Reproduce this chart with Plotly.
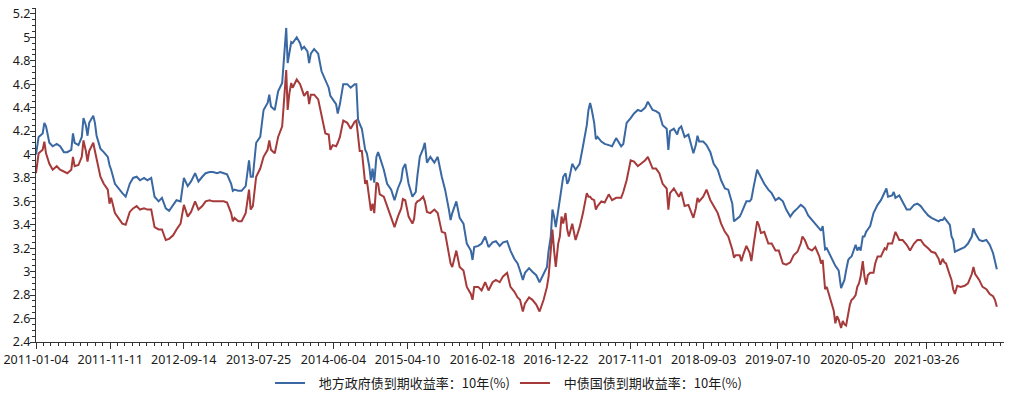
import plotly.graph_objects as go
import pandas as pd

# ---- data ----
dates = [
    "2011-01-04", "2011-01-15", "2011-02-01", "2011-02-08", "2011-02-15", "2011-03-01", "2011-03-15",
    "2011-04-01", "2011-04-15", "2011-05-01", "2011-05-15", "2011-06-01", "2011-06-08", "2011-06-15",
    "2011-07-01", "2011-07-15", "2011-07-22", "2011-08-01", "2011-08-08", "2011-08-15", "2011-09-01",
    "2011-09-08", "2011-09-15", "2011-10-01", "2011-10-15", "2011-11-01", "2011-11-08", "2011-11-15",
    "2011-12-01", "2011-12-15",
    "2012-01-01", "2012-01-15", "2012-02-01", "2012-02-15", "2012-03-01", "2012-03-15", "2012-04-01",
    "2012-04-15", "2012-05-01", "2012-05-15", "2012-06-01", "2012-06-15", "2012-07-01", "2012-07-15",
    "2012-08-01", "2012-08-15", "2012-09-01", "2012-09-15", "2012-10-01", "2012-10-15", "2012-11-01",
    "2012-11-15", "2012-12-01", "2012-12-15",
    "2013-01-01", "2013-01-15", "2013-02-01", "2013-02-15", "2013-03-01", "2013-03-15", "2013-04-01",
    "2013-04-08", "2013-04-15", "2013-05-01", "2013-05-15", "2013-06-01", "2013-06-08", "2013-06-15",
    "2013-06-22", "2013-07-01", "2013-07-15", "2013-08-01", "2013-08-15", "2013-09-01", "2013-09-08",
    "2013-09-15", "2013-10-01", "2013-10-15", "2013-11-01", "2013-11-08", "2013-11-18", "2013-11-24",
    "2013-12-01", "2013-12-09", "2013-12-15",
    "2014-01-01", "2014-01-15", "2014-01-22", "2014-02-01", "2014-02-15", "2014-02-22", "2014-03-01",
    "2014-03-15", "2014-04-01", "2014-04-15", "2014-05-01", "2014-05-15", "2014-05-22", "2014-06-01",
    "2014-06-15", "2014-06-22", "2014-07-01", "2014-07-15", "2014-08-01", "2014-08-15", "2014-09-01",
    "2014-09-08", "2014-09-15", "2014-09-22", "2014-10-01", "2014-10-15", "2014-10-22", "2014-11-01",
    "2014-11-08", "2014-11-15", "2014-11-22", "2014-12-01", "2014-12-08", "2014-12-15",
    "2015-01-01", "2015-01-15", "2015-02-01", "2015-02-15", "2015-03-01", "2015-03-15", "2015-03-22",
    "2015-04-01", "2015-04-15", "2015-05-01", "2015-05-08", "2015-05-15", "2015-05-22", "2015-06-01",
    "2015-06-15", "2015-06-22", "2015-07-01", "2015-07-15", "2015-08-01", "2015-08-15", "2015-09-01",
    "2015-09-15", "2015-10-01", "2015-10-08", "2015-10-15", "2015-11-01", "2015-11-15", "2015-12-01",
    "2015-12-15",
    "2016-01-01", "2016-01-08", "2016-01-15", "2016-02-01", "2016-02-15", "2016-03-01", "2016-03-15",
    "2016-04-01", "2016-04-15", "2016-05-01", "2016-05-15", "2016-06-01", "2016-06-15", "2016-07-01",
    "2016-07-15", "2016-07-25", "2016-08-06", "2016-08-15", "2016-09-01", "2016-09-15", "2016-10-01",
    "2016-10-15", "2016-11-01", "2016-11-15", "2016-11-22", "2016-12-01", "2016-12-08", "2016-12-15",
    "2016-12-22",
    "2017-01-01", "2017-01-08", "2017-01-15", "2017-01-22", "2017-02-01", "2017-02-08", "2017-02-15",
    "2017-03-01", "2017-03-15", "2017-04-01", "2017-04-15", "2017-05-01", "2017-05-08", "2017-05-15",
    "2017-05-22", "2017-06-01", "2017-06-08", "2017-06-15", "2017-07-01", "2017-07-15", "2017-08-01",
    "2017-08-15", "2017-09-01", "2017-09-15", "2017-09-22", "2017-10-01", "2017-10-15", "2017-11-01",
    "2017-11-15", "2017-12-01", "2017-12-15",
    "2018-01-01", "2018-01-12", "2018-02-01", "2018-02-15", "2018-03-01", "2018-03-15", "2018-04-01",
    "2018-04-08", "2018-04-15", "2018-05-01", "2018-05-15", "2018-05-22", "2018-06-01", "2018-06-15",
    "2018-07-01", "2018-07-15", "2018-07-22", "2018-08-01", "2018-08-08", "2018-08-15", "2018-09-01",
    "2018-09-15", "2018-10-01", "2018-10-15", "2018-11-01", "2018-11-15", "2018-12-01", "2018-12-15",
    "2019-01-01", "2019-01-08", "2019-01-15", "2019-02-01", "2019-02-08", "2019-02-15", "2019-03-01",
    "2019-03-15", "2019-03-22", "2019-04-01", "2019-04-15", "2019-04-22", "2019-05-01", "2019-05-15",
    "2019-06-01", "2019-06-15", "2019-07-01", "2019-07-15", "2019-08-01", "2019-08-15", "2019-09-01",
    "2019-09-15", "2019-10-01", "2019-10-15", "2019-10-22", "2019-11-01", "2019-11-15", "2019-12-01",
    "2019-12-15",
    "2020-01-01", "2020-01-08", "2020-01-15", "2020-01-25", "2020-02-01", "2020-02-08", "2020-02-15",
    "2020-02-22", "2020-03-01", "2020-03-08", "2020-03-15", "2020-03-22", "2020-04-01", "2020-04-08",
    "2020-04-15", "2020-04-22", "2020-05-01", "2020-05-08", "2020-05-15", "2020-05-22", "2020-06-01",
    "2020-06-08", "2020-06-15", "2020-06-22", "2020-07-01", "2020-07-08", "2020-07-15", "2020-07-22",
    "2020-08-01", "2020-08-15", "2020-08-22", "2020-09-01", "2020-09-15", "2020-10-01", "2020-10-08",
    "2020-10-15", "2020-11-01", "2020-11-08", "2020-11-15", "2020-12-01", "2020-12-15",
    "2021-01-01", "2021-01-15", "2021-02-01", "2021-02-15", "2021-03-01", "2021-03-15", "2021-04-01",
    "2021-04-15", "2021-05-01", "2021-05-15", "2021-05-22", "2021-06-01", "2021-06-08", "2021-06-15",
    "2021-07-01", "2021-07-08", "2021-07-15", "2021-07-22", "2021-08-01", "2021-08-15", "2021-09-01",
    "2021-09-15", "2021-10-01", "2021-10-08", "2021-10-15", "2021-11-01", "2021-11-15", "2021-12-01",
    "2021-12-15", "2021-12-29", "2022-01-06", "2022-01-14",
]

local_gov_10y = [
    4.00, 4.15, 4.18, 4.27, 4.24, 4.10, 4.07,
    4.09, 4.07, 4.02, 4.02, 4.04, 4.18, 4.10,
    4.08, 4.15, 4.31, 4.25, 4.16, 4.27, 4.33,
    4.27, 4.16, 4.05, 4.02, 3.98, 3.91, 3.87,
    3.75, 3.71,
    3.67, 3.64, 3.75, 3.80, 3.81, 3.78, 3.80,
    3.78, 3.80, 3.64, 3.60, 3.63, 3.54, 3.52,
    3.57, 3.61, 3.60, 3.80, 3.73, 3.77, 3.84,
    3.77, 3.81, 3.84,
    3.85, 3.85, 3.84, 3.85, 3.84, 3.83, 3.75,
    3.69, 3.70, 3.69, 3.69, 3.73, 3.84, 3.95,
    3.81, 3.81, 4.10, 4.15, 4.38, 4.44, 4.51,
    4.41, 4.38, 4.54, 4.61, 4.81, 5.08, 4.78,
    4.86, 4.96, 4.95,
    5.00, 4.95, 4.90, 4.92, 4.88, 4.78, 4.86,
    4.90, 4.86, 4.71, 4.64, 4.57, 4.50, 4.47,
    4.43, 4.35, 4.43, 4.60, 4.60, 4.57, 4.60,
    4.60, 4.30, 4.26, 4.22, 4.04, 4.01, 3.90,
    3.78, 3.88, 3.76, 3.98, 4.02, 3.98,
    3.87, 3.75, 3.70, 3.61, 3.71, 3.78, 3.88,
    3.92, 3.75, 3.64, 3.66, 3.68, 3.82, 3.98,
    4.05, 4.10, 3.93, 3.98, 3.93, 3.98, 3.81,
    3.70, 3.53, 3.44, 3.50, 3.60, 3.46, 3.41,
    3.24,
    3.18, 3.10, 3.21, 3.22, 3.24, 3.30, 3.21,
    3.25, 3.26, 3.22, 3.25, 3.26, 3.18, 3.11,
    3.07, 3.01, 2.93, 2.99, 3.03, 3.00, 2.97,
    2.91, 2.99, 3.04, 3.18, 3.30, 3.53, 3.47,
    3.38,
    3.53, 3.64, 3.70, 3.81, 3.84, 3.75, 3.78,
    3.92, 3.87, 3.92, 4.07, 4.25, 4.38, 4.44,
    4.38, 4.27, 4.13, 4.15, 4.11, 4.09, 4.08,
    4.07, 4.14, 4.09, 4.07, 4.09, 4.27, 4.31,
    4.35, 4.38, 4.37,
    4.40, 4.45, 4.38, 4.37, 4.35, 4.25, 4.22,
    4.04, 4.20, 4.22, 4.17, 4.22, 4.24, 4.15,
    4.17, 4.07, 4.01, 4.08, 4.16, 4.11, 4.11,
    4.08, 4.02, 3.92, 3.87, 3.78, 3.71, 3.70,
    3.58, 3.43, 3.44, 3.47, 3.50, 3.53, 3.60,
    3.60, 3.62, 3.73, 3.87, 3.84, 3.80, 3.75,
    3.70, 3.67, 3.61, 3.63, 3.60, 3.53, 3.47,
    3.51, 3.54, 3.57, 3.56, 3.54, 3.48, 3.44,
    3.41,
    3.37, 3.35, 3.39, 3.19, 3.20, 3.17, 3.14,
    3.10, 3.07, 3.05, 3.03, 3.01, 2.86, 2.90,
    2.93, 3.01, 3.10, 3.12, 3.13, 3.17, 3.23,
    3.18, 3.21, 3.18, 3.30, 3.30, 3.34, 3.36,
    3.39, 3.50, 3.53, 3.57, 3.61, 3.68, 3.71,
    3.64, 3.65, 3.68, 3.63, 3.65, 3.60,
    3.53, 3.53, 3.57, 3.58, 3.56, 3.52, 3.48,
    3.46, 3.44, 3.43, 3.44, 3.44, 3.46, 3.44,
    3.40, 3.30, 3.27, 3.17, 3.18, 3.20, 3.21,
    3.24, 3.30, 3.37, 3.33, 3.27, 3.26, 3.27,
    3.23, 3.16, 3.10, 3.02,
]

treasury_10y = [
    3.84, 4.01, 4.04, 4.11, 4.01, 3.92, 3.87,
    3.90, 3.87, 3.85, 3.84, 3.87, 3.98, 3.90,
    3.91, 3.98, 4.12, 4.03, 3.94, 4.03, 4.10,
    4.03, 3.97, 3.81, 3.75, 3.70, 3.58, 3.63,
    3.50, 3.46,
    3.41, 3.40, 3.51, 3.54, 3.56, 3.53, 3.54,
    3.53, 3.53, 3.38, 3.36, 3.36, 3.27, 3.28,
    3.31, 3.36, 3.41, 3.57, 3.47, 3.51, 3.60,
    3.53, 3.56, 3.60,
    3.61, 3.60, 3.60, 3.60, 3.60, 3.59, 3.50,
    3.43, 3.46, 3.43, 3.43, 3.50, 3.59, 3.70,
    3.53, 3.56, 3.81, 3.88, 3.98, 4.04, 4.12,
    4.04, 4.01, 4.15, 4.24, 4.47, 4.72, 4.38,
    4.52, 4.61, 4.57,
    4.64, 4.60, 4.56, 4.50, 4.54, 4.43, 4.51,
    4.51, 4.47, 4.33, 4.18, 4.17, 4.04, 4.08,
    4.07, 4.10, 4.15, 4.29, 4.27, 4.22, 4.28,
    4.29, 4.15, 4.03, 4.03, 3.75, 3.78, 3.60,
    3.52, 3.58, 3.50, 3.76, 3.75, 3.66,
    3.64, 3.56, 3.47, 3.38, 3.47, 3.54, 3.62,
    3.61, 3.47, 3.41, 3.45, 3.58, 3.60, 3.61,
    3.64, 3.60, 3.51, 3.50, 3.53, 3.50, 3.34,
    3.33, 3.15, 3.07, 3.04, 3.18, 3.04, 3.01,
    2.87,
    2.81, 2.76, 2.87, 2.87, 2.84, 2.91, 2.84,
    2.91, 2.93, 2.91, 2.96, 2.99, 2.87, 2.83,
    2.78, 2.76, 2.66, 2.73, 2.78, 2.76, 2.72,
    2.66, 2.76, 2.87, 2.96, 3.18, 3.36, 3.18,
    3.04,
    3.24, 3.30, 3.47, 3.41, 3.50, 3.36, 3.30,
    3.41, 3.27, 3.38, 3.50, 3.67, 3.64, 3.64,
    3.62, 3.61, 3.53, 3.56, 3.60, 3.59, 3.66,
    3.61, 3.63, 3.63, 3.63, 3.68, 3.78, 3.95,
    3.94, 3.90, 3.92,
    3.95, 3.98, 3.88, 3.88, 3.84, 3.75, 3.71,
    3.53, 3.67, 3.71, 3.67, 3.64, 3.68, 3.56,
    3.57, 3.50, 3.46, 3.54, 3.63, 3.60, 3.64,
    3.70, 3.61, 3.56, 3.50, 3.41, 3.34, 3.30,
    3.19, 3.12, 3.14, 3.14, 3.09, 3.14, 3.22,
    3.16, 3.09, 3.24, 3.43, 3.40, 3.33, 3.34,
    3.24, 3.24, 3.18, 3.18, 3.07, 3.06, 3.08,
    3.14, 3.17, 3.24, 3.30, 3.27, 3.20, 3.18,
    3.21,
    3.13, 3.07, 3.10, 2.85, 2.87, 2.82, 2.79,
    2.74, 2.67, 2.56, 2.62, 2.59, 2.52, 2.58,
    2.55, 2.54, 2.65, 2.72, 2.76, 2.77, 2.80,
    2.87, 2.90, 2.96, 3.09, 2.96, 2.89, 2.97,
    2.99, 2.99, 3.07, 3.13, 3.13, 3.20, 3.19,
    3.24, 3.24, 3.30, 3.34, 3.27, 3.27,
    3.23, 3.18, 3.24, 3.27, 3.27, 3.23, 3.20,
    3.17, 3.16, 3.11, 3.06, 3.11, 3.08, 3.07,
    2.97, 2.93, 2.85, 2.81, 2.88, 2.87, 2.88,
    2.90, 2.98, 3.04, 2.98, 2.93, 2.87, 2.85,
    2.81, 2.79, 2.76, 2.70,
]

tick_labels = [
    "2011-01-04", "2011-11-11", "2012-09-14", "2013-07-25", "2014-06-04", "2015-04-10",
    "2016-02-18", "2016-12-22", "2017-11-01", "2018-09-03", "2019-07-10", "2020-05-20", "2021-03-26",
]
y_ticks = [2.4, 2.6, 2.8, 3.0, 3.2, 3.4, 3.6, 3.8, 4.0, 4.2, 4.4, 4.6, 4.8, 5.0, 5.2]

series_names = ["地方政府债到期收益率：10年(%)", "中债国债到期收益率：10年(%)"]
colors = ["#3a68a2", "#a63a3a"]

x_start, x_end = "2011-01-04", "2022-02-13"

# minor ticks: 10 subdivisions between labelled dates
td = pd.to_datetime(tick_labels)
minor_vals = []
for a, b in zip(td[:-1], td[1:]):
    for k in range(1, 10):
        minor_vals.append(a + (b - a) * k / 10)
step = (td[-1] - td[-2]) / 10
t = td[-1] + step
while t <= pd.Timestamp(x_end):
    minor_vals.append(t)
    t = t + step
minor_vals = [m.strftime("%Y-%m-%d %H:%M") for m in minor_vals]

font_family = "Noto Sans, Noto Sans CJK SC, sans-serif"
legend_pad = "\u00a0\u00a0\u00a0"

fig = go.Figure()
for name, vals, col in zip(series_names, [local_gov_10y, treasury_10y], colors):
    fig.add_trace(go.Scatter(
        x=dates, y=vals, mode="lines", name=legend_pad + name,
        line=dict(color=col, width=2),
    ))

fig.update_layout(
    width=1011, height=395,
    margin=dict(l=36, r=7, t=8, b=53),
    paper_bgcolor="white", plot_bgcolor="white",
    font=dict(family=font_family, size=12.5, color="#1a1a1a"),
    showlegend=True,
    legend=dict(
        orientation="h", xref="container", yref="container",
        x=0.503, xanchor="center", y=0.03, yanchor="middle",
        font=dict(family="Noto Sans CJK SC, sans-serif", size=13, color="#1a1a1a"),
        bgcolor="rgba(0,0,0,0)",
    ),
    xaxis=dict(
        type="date", range=[x_start, x_end], automargin=False,
        tickmode="array", tickvals=tick_labels, ticktext=tick_labels,
        showgrid=False, zeroline=False,
        showline=True, linecolor="#333", linewidth=1,
        ticks="outside", ticklen=6, tickcolor="#333", tickwidth=1,
        minor=dict(tickmode="array", tickvals=minor_vals, ticks="outside",
                   ticklen=3, tickcolor="#333", tickwidth=1, showgrid=False),
    ),
    yaxis=dict(
        range=[2.4, 5.25], automargin=False,
        tickmode="array", tickvals=y_ticks,
        ticktext=[f"{v:g}" for v in y_ticks],
        showgrid=False, zeroline=False,
        showline=True, linecolor="#333", linewidth=1,
        ticks="outside", ticklen=5, tickcolor="#333", tickwidth=1,
        ticklabelstandoff=-3,
        minor=dict(dtick=0.05, tick0=2.4, ticks="outside", ticklen=3,
                   tickcolor="#333", tickwidth=1, showgrid=False),
    ),
)

fig.write_html(
    "out.html",
    config={"displayModeBar": False},
    post_script="document.body.style.margin='0';",
)
